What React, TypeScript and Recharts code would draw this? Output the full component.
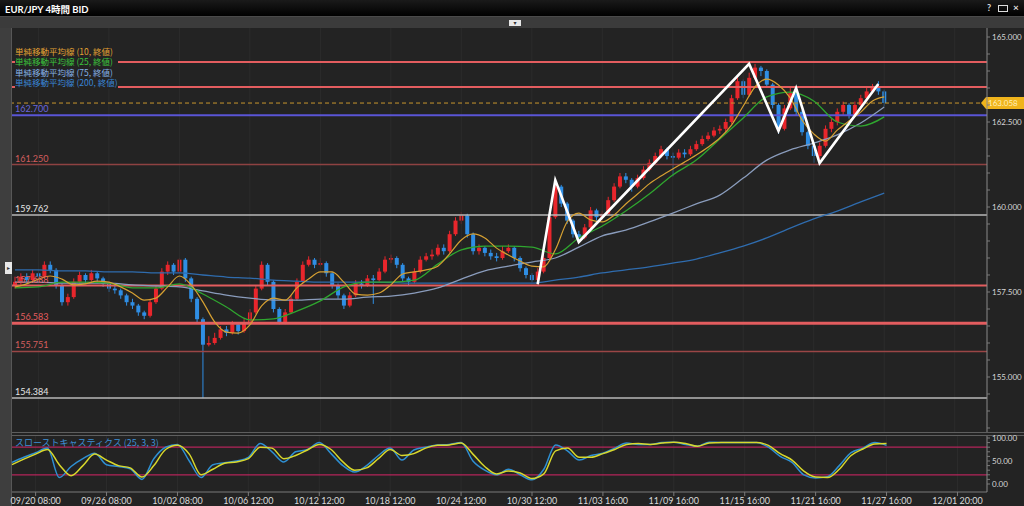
import React from 'react';
import { ComposedChart, Bar, Line, XAxis, YAxis, ReferenceLine } from 'recharts';

// ---------- DATA ----------
const TOTAL_SLOTS = 166; // candle slots incl. empty future slots
const firstOpen = 157.7;

const closes = [
  157.80,157.95,157.85,158.05,157.95,158.30,158.15,157.70,157.20,157.35,
  157.80,158.00,157.85,158.05,157.90,157.75,157.60,157.55,157.40,157.20,
  157.10,156.90,156.80,157.20,157.60,158.10,158.30,158.10,158.45,157.90,
  157.30,156.70,155.95,156.00,156.15,156.40,156.30,156.55,156.35,156.60,
  156.90,157.60,158.30,157.80,157.00,156.60,156.90,157.30,157.80,158.30,
  158.45,158.30,158.35,158.05,157.70,157.40,157.10,157.40,157.75,157.70,
  157.90,157.85,158.10,158.45,158.50,158.30,157.90,157.80,158.10,158.45,
  158.55,158.60,158.80,158.70,159.20,159.60,159.75,159.20,158.70,158.80,
  158.65,158.55,158.50,158.70,158.80,158.50,158.20,158.00,157.85,158.10,
  158.50,159.70,160.60,160.10,159.60,159.20,159.10,159.40,159.90,159.70,
  159.80,160.20,160.60,160.90,160.80,160.60,160.85,161.10,161.30,161.50,
  161.70,161.50,161.45,161.60,161.55,161.70,161.85,162.00,162.10,162.25,
  162.30,162.50,163.20,163.70,163.30,163.80,164.10,164.00,163.60,163.00,
  162.30,162.90,163.35,162.80,162.20,161.80,161.50,161.80,162.30,162.50,
  162.80,163.00,162.70,163.00,163.20,163.40,163.50,163.40,163.06,
];
const highs = [
  157.95,158.05,158.05,158.15,158.15,158.40,158.40,158.20,157.75,157.45,
  157.90,158.10,158.05,158.15,158.10,157.95,157.80,157.70,157.60,157.45,
  157.30,157.15,156.95,157.30,157.70,158.20,158.40,158.35,158.50,158.50,
  157.95,157.35,156.75,156.20,156.30,156.50,156.50,156.65,156.60,156.70,
  157.00,157.70,158.40,158.35,157.85,157.05,157.00,157.40,157.90,158.40,
  158.55,158.50,158.50,158.40,158.10,157.75,157.45,157.50,157.85,157.85,
  158.00,158.00,158.20,158.55,158.60,158.55,158.35,157.95,158.20,158.55,
  158.65,158.75,158.90,158.90,159.30,159.70,159.85,159.80,159.25,158.90,
  158.85,158.75,158.65,158.85,158.90,158.85,158.55,158.25,158.05,158.20,
  158.60,159.80,160.79,160.65,160.15,159.65,159.30,159.50,160.00,159.95,
  159.90,160.30,160.70,161.00,161.00,160.85,160.95,161.20,161.40,161.60,
  161.80,161.75,161.60,161.70,161.70,161.80,161.95,162.10,162.20,162.35,
  162.40,162.60,163.30,163.85,163.75,163.95,164.21,164.15,164.05,163.65,
  163.05,163.00,163.50,163.40,162.85,162.25,161.85,161.90,162.40,162.60,
  162.90,163.10,163.05,163.10,163.30,163.50,163.62,163.70,163.45,
];
const lows = [
  157.60,157.70,157.75,157.80,157.85,157.90,158.05,157.60,157.10,157.10,
  157.30,157.75,157.75,157.80,157.80,157.65,157.50,157.45,157.30,157.10,
  157.00,156.80,156.70,156.75,157.15,157.55,158.00,158.00,158.05,157.80,
  157.20,156.60,154.38,155.90,155.95,156.10,156.20,156.25,156.25,156.30,
  156.55,156.85,157.55,157.70,156.90,156.55,156.55,156.85,157.25,157.75,
  158.25,158.20,158.25,157.95,157.60,157.30,157.00,157.05,157.35,157.60,
  157.65,157.15,157.80,158.05,158.35,158.20,157.80,157.70,157.75,158.05,
  158.40,158.45,158.55,158.60,158.65,159.15,159.50,159.10,158.60,158.60,
  158.55,158.45,158.40,158.45,158.65,158.40,158.10,157.90,157.80,157.73,
  158.05,158.45,159.65,160.00,159.50,159.10,158.97,159.05,159.35,159.60,
  159.60,159.75,160.15,160.55,160.70,160.45,160.55,160.80,161.05,161.25,
  161.45,161.40,160.90,161.40,161.45,161.50,161.65,161.80,161.95,162.05,
  162.15,162.20,162.45,163.15,163.20,163.25,163.75,163.85,163.50,162.90,
  162.15,162.25,162.85,162.70,162.10,161.70,161.30,161.40,161.75,162.20,
  162.40,162.70,162.60,162.65,162.95,163.10,163.35,163.30,162.95,
];

// moving averages, sampled every SMA10_STEP / SMA_STEP slots
const SMA10_STEP = 2;
const SMA_STEP = 4;
const sma10 = [
  157.65,157.74,157.88,157.97,157.88,157.71,157.74,157.82,157.79,157.65,
  157.47,157.26,157.32,157.65,157.97,157.71,157.21,156.62,156.32,156.29,
  156.53,157.09,157.32,157.26,157.62,157.88,158.09,158.09,157.79,157.44,
  157.41,157.47,157.71,158.03,158.09,158.15,158.26,158.62,159.03,159.21,
  159.09,158.79,158.59,158.41,158.26,158.24,158.74,159.56,159.82,159.62,
  159.56,159.76,160.09,160.38,160.68,160.91,161.12,161.32,161.53,161.76,
  162.03,162.41,162.97,163.53,163.76,163.59,163.21,162.56,162.15,161.94,
  162.26,162.53,162.79,163.12,163.24,
];
const sma25 = [
  157.62,157.65,157.79,157.79,157.76,157.62,157.62,157.74,157.44,157.06,
  156.68,156.71,156.94,157.24,157.65,157.79,157.79,157.85,158.32,158.74,
  158.85,158.85,158.82,158.62,159.09,159.44,159.88,160.38,160.94,161.38,
  162.00,162.62,163.24,163.38,163.12,162.50,162.38,162.65,
];
const sma75 = [
  157.79,157.79,157.76,157.76,157.76,157.71,157.68,157.65,157.53,157.41,
  157.32,157.26,157.26,157.29,157.29,157.35,157.38,157.47,157.62,157.88,
  158.12,158.26,158.38,158.50,158.82,159.15,159.32,159.56,159.82,160.09,
  160.35,160.85,161.38,161.68,161.88,162.12,162.47,162.94,
];
const sma200 = [
  158.15,158.15,158.12,158.12,158.09,158.09,158.06,158.06,158.00,157.94,
  157.91,157.85,157.82,157.79,157.79,157.79,157.78,157.76,157.76,157.76,
  157.76,157.76,157.76,157.85,157.94,158.06,158.15,158.24,158.35,158.47,
  158.65,158.85,159.09,159.38,159.65,159.88,160.15,160.41,
];

// slow stochastics (25,3,3), sampled every STOCH_STEP slots
const STOCH_STEP = 2;
const stochK = [
  47,58,68,78,14,38,55,67,42,38, 33,10,55,80,86,50,14,42,46,50,
  58,88,70,48,70,75,90,66,40,26, 40,62,78,52,74,80,85,86,90,50,
  30,20,32,20,9,32,85,72,52,62, 67,78,89,86,86,90,91,86,82,91,
  90,90,90,90,80,60,47,20,13,16, 40,68,78,90,84,
];
const stochD = [
  42,54,65,75,42,18,40,65,52,40, 35,15,40,75,84,65,20,32,45,48,
  55,80,78,55,62,74,86,75,48,30, 35,55,75,62,66,78,84,85,89,65,
  38,22,28,24,12,22,72,78,58,58, 66,75,86,88,86,89,91,88,82,89,
  90,90,90,90,84,66,52,28,15,14, 32,62,76,87,88,
];

// hand-drawn zigzag trend line
const zigSlots = [89, 92, 96, 125, 130, 133, 137, 147];
const zigPrices = [157.73, 160.79, 158.97, 164.21, 162.24, 163.5, 161.29, 163.62];

// horizontal levels
const levelPrices = [164.265, 163.53, 162.7, 161.25, 159.762, 157.688, 156.583, 155.751, 154.384];
const levelLabels = ['164.265', '163.530', '162.700', '161.250', '159.762', '157.688', '156.583', '155.751', '154.384'];
const lastPrice = 163.058;
const lastPriceLabel = '163.058';

// axes
const tickSlots = [4, 16, 28, 40, 52, 64, 76, 88, 100, 112, 124, 136, 148, 160];
const tickLabels = [
  '09/20 08:00', '09/26 08:00', '10/02 08:00', '10/06 12:00', '10/12 12:00', '10/18 12:00', '10/24 12:00',
  '10/30 12:00', '11/03 16:00', '11/09 16:00', '11/15 16:00', '11/21 16:00', '11/27 16:00', '12/01 20:00',
];
const priceTicks = [153.5, 154, 154.5, 155, 155.5, 156, 156.5, 157, 157.5, 158, 158.5, 159, 159.5, 160, 160.5, 161, 161.5, 162, 162.5, 163, 163.5, 164, 164.5, 165];
const priceLabelTicks = [155, 157.5, 160, 162.5, 165];
const stochTicks = [0, 10, 20, 30, 40, 50, 60, 70, 80, 90, 100];
const stochLabelTicks = [0, 50, 100];
const stochLevels = [80, 20];

const legendItems = ['単純移動平均線 (10, 終値)', '単純移動平均線 (25, 終値)', '単純移動平均線 (75, 終値)', '単純移動平均線 (200, 終値)'];
const stochTitle = 'スローストキャスティクス (25, 3, 3)';
const title = 'EUR/JPY 4時間 BID';

// ---------- BUILD ROWS ----------
const rows = Array.from({ length: TOTAL_SLOTS }, (_, k) => {
  const r: any = { k };
  if (k < closes.length) {
    r.o = k === 0 ? firstOpen : closes[k - 1];
    r.c = closes[k];
    r.h = highs[k];
    r.l = lows[k];
    r.range = [lows[k], highs[k]];
  }
  if (k % SMA10_STEP === 0 && k / SMA10_STEP < sma10.length) r.ma10 = sma10[k / SMA10_STEP];
  if (k % SMA_STEP === 0 && k / SMA_STEP < sma25.length) {
    r.ma25 = sma25[k / SMA_STEP];
    r.ma75 = sma75[k / SMA_STEP];
    r.ma200 = sma200[k / SMA_STEP];
  }
  if (k % STOCH_STEP === 0 && k / STOCH_STEP < stochK.length) {
    r.sk = stochK[k / STOCH_STEP];
    r.sd = stochD[k / STOCH_STEP];
  }
  const zi = zigSlots.indexOf(k);
  if (zi >= 0) r.zig = zigPrices[zi];
  return r;
});

const tickLabelMap: Record<number, string> = {};
tickSlots.forEach((s, i) => (tickLabelMap[s] = tickLabels[i]));

// ---------- STYLES ----------
const UP = '#e8262c';
const DOWN = '#2f8ee4';
const levelStyles = [
  { stroke: '#e35d5f', w: 2, text: '#e35d5f' },
  { stroke: '#e35d5f', w: 2, text: '#e35d5f' },
  { stroke: '#5a55d6', w: 2, text: '#6b66dc' },
  { stroke: '#8e4242', w: 1.5, text: '#d45e5e' },
  { stroke: '#b8b8b8', w: 1.5, text: '#e6e6e6' },
  { stroke: '#e35d5f', w: 2, text: '#e35d5f' },
  { stroke: '#e35d5f', w: 3, text: '#e35d5f' },
  { stroke: '#9a4646', w: 1.5, text: '#d45e5e' },
  { stroke: '#b8b8b8', w: 1.5, text: '#e6e6e6' },
];
const legendColors = ['#e2a233', '#3cc43c', '#86b2e6', '#3a86d6'];
const FONT = 'Lato, "Noto Sans CJK JP", "DejaVu Sans", sans-serif';

const Candle = (props: any) => {
  const { x, y, width, height, payload } = props;
  if (!payload || payload.h == null || !isFinite(y) || !isFinite(height)) return null;
  const { o, c, h, l } = payload;
  const span = h - l || 1e-6;
  const py = (v: number) => y + ((h - v) / span) * height;
  const color = c >= o ? UP : DOWN;
  const cx = x + width / 2;
  const top = py(Math.max(o, c));
  const bot = py(Math.min(o, c));
  return (
    <g>
      <line x1={cx} x2={cx} y1={y} y2={y + height} stroke={color} strokeWidth={1} />
      <rect x={cx - 2} y={top} width={4} height={Math.max(1, bot - top)} fill={color} />
    </g>
  );
};

const PriceTag = (props: any) => {
  const vb = props.viewBox;
  if (!vb) return null;
  const x = vb.x + vb.width;
  const y = vb.y;
  return (
    <g>
      <polygon points={`${x - 6},${y} ${x - 1},${y - 6} ${x + 37},${y - 6} ${x + 37},${y + 6} ${x - 1},${y + 6}`} fill="#f0b41c" />
      <text x={x + 1} y={y + 3} fontSize={8} fill="#fff0b8" fontFamily={FONT}>{lastPriceLabel}</text>
    </g>
  );
};

export default function App() {
  return (
    <div style={{ position: 'absolute', left: 0, top: 0, width: 1024, height: 506, background: '#232323', overflow: 'hidden', fontFamily: FONT }}>
      {/* title bar */}
      <div style={{ position: 'absolute', left: 0, top: 0, width: 1024, height: 16, background: 'linear-gradient(#1a1a1a, #000)', borderBottom: '1px solid #4a4a4a' }}>
        <span style={{ position: 'absolute', left: 5, top: 2, color: '#fff', fontSize: 9.5, fontWeight: 700 }}>{title}</span>
        <span style={{ position: 'absolute', left: 987, top: 2, color: '#ddd', fontSize: 9, fontWeight: 700 }}>?</span>
        <span style={{ position: 'absolute', left: 998, top: 5, width: 8, height: 5, border: '1px solid #ddd' }} />
        <span style={{ position: 'absolute', left: 1013, top: 1, color: '#ddd', fontSize: 10, fontWeight: 700 }}>×</span>
      </div>
      {/* gray strip under title */}
      <div style={{ position: 'absolute', left: 0, top: 17, width: 1024, height: 11, background: '#3b3b3b' }}>
        <div style={{ position: 'absolute', left: 509, top: 3, width: 12, height: 6, background: '#e6e6e6', fontSize: 6, lineHeight: '6px', textAlign: 'center', color: '#333' }}>▾</div>
      </div>
      {/* left strip */}
      <div style={{ position: 'absolute', left: 0, top: 28, width: 11, height: 478, background: '#3e3e3e', borderRight: '1px solid #575757' }}>
        <div style={{ position: 'absolute', left: 5, top: 234, width: 7, height: 12, background: '#e8e8e8', fontSize: 6, lineHeight: '12px', textAlign: 'center', color: '#333' }}>▸</div>
      </div>

      {/* main price chart */}
      <div style={{ position: 'absolute', left: 0, top: 28 }}>
        <ComposedChart width={1024} height={404} data={rows} margin={{ top: 0, right: 0, bottom: 0, left: 12 }}>
          <XAxis dataKey="k" type="category" hide />
          <YAxis
            orientation="right"
            width={37}
            type="number"
            domain={[153.382, 165.265]}
            allowDataOverflow
            ticks={priceTicks}
            interval={0}
            tickFormatter={(v: number) => (priceLabelTicks.includes(v) ? v.toFixed(3) : '')}
            tick={{ fill: '#d6d6d6', fontSize: 8, fontFamily: FONT }}
            axisLine={{ stroke: '#8a8a8a' }}
            tickLine={{ stroke: '#7a7a7a' }}
            tickSize={3}
            tickMargin={2}
          />
          {tickSlots.map((s) => (
            <ReferenceLine key={'v' + s} x={s} stroke="#2c2c2c" strokeWidth={1} />
          ))}
          {levelPrices.map((p, i) => (
            <ReferenceLine
              key={'lv' + i}
              y={p}
              stroke={levelStyles[i].stroke}
              strokeWidth={levelStyles[i].w}
              label={{ value: levelLabels[i], position: 'insideBottomLeft', offset: 3, fill: levelStyles[i].text, fontSize: 9, fontFamily: FONT }}
            />
          ))}
          <ReferenceLine y={lastPrice} stroke="#c8962e" strokeDasharray="4 3" strokeWidth={1} label={<PriceTag />} />
          <Bar dataKey="range" shape={Candle} barSize={4} isAnimationActive={false} />
          <Line dataKey="ma200" stroke="#2f6cae" strokeWidth={1.3} dot={false} activeDot={false} connectNulls type="monotone" isAnimationActive={false} />
          <Line dataKey="ma75" stroke="#8a9cbc" strokeWidth={1.3} dot={false} activeDot={false} connectNulls type="monotone" isAnimationActive={false} />
          <Line dataKey="ma25" stroke="#2fa62f" strokeWidth={1.3} dot={false} activeDot={false} connectNulls type="monotone" isAnimationActive={false} />
          <Line dataKey="ma10" stroke="#d6a032" strokeWidth={1.2} dot={false} activeDot={false} connectNulls type="monotone" isAnimationActive={false} />
          <Line dataKey="zig" stroke="#ffffff" strokeWidth={2.6} dot={false} activeDot={false} connectNulls type="linear" isAnimationActive={false} />
        </ComposedChart>
      </div>

      {/* legend */}
      <div style={{ position: 'absolute', left: 15, top: 46, width: 103, height: 43, background: '#232323' }}>
        {legendItems.map((t, i) => (
          <div key={t} style={{ position: 'absolute', left: 0, top: i * 10.4, fontSize: 8.5, lineHeight: '11px', color: legendColors[i], whiteSpace: 'nowrap', fontFamily: '"Noto Sans CJK JP", Lato, sans-serif' }}>{t}</div>
        ))}
      </div>

      {/* panel divider */}
      <div style={{ position: 'absolute', left: 12, top: 432, width: 1012, height: 1, background: '#5e5e5e' }} />
      <div style={{ position: 'absolute', left: 12, top: 435, width: 1012, height: 1, background: '#5e5e5e' }} />

      {/* stochastics chart */}
      <div style={{ position: 'absolute', left: 0, top: 430 }}>
        <ComposedChart width={1024} height={76} data={rows} margin={{ top: 6, right: 0, bottom: 0, left: 12 }}>
          <XAxis
            dataKey="k"
            type="category"
            ticks={tickSlots}
            interval={0}
            height={14}
            tickFormatter={(v: number) => tickLabelMap[v] ?? ''}
            tick={{ fill: '#dadada', fontSize: 9, fontFamily: FONT }}
            axisLine={{ stroke: '#7a7a7a' }}
            tickLine={{ stroke: '#7a7a7a' }}
            tickSize={4}
          />
          <YAxis
            orientation="right"
            width={37}
            type="number"
            domain={[-17.4, 104.35]}
            allowDataOverflow
            ticks={stochTicks}
            interval={0}
            tickFormatter={(v: number) => (stochLabelTicks.includes(v) ? v.toFixed(2) : '')}
            tick={{ fill: '#d6d6d6', fontSize: 8, fontFamily: FONT }}
            axisLine={{ stroke: '#8a8a8a' }}
            tickLine={{ stroke: '#7a7a7a' }}
            tickSize={3}
            tickMargin={2}
          />
          {tickSlots.map((s) => (
            <ReferenceLine key={'sv' + s} x={s} stroke="#2c2c2c" strokeWidth={1} />
          ))}
          {stochLevels.map((v) => (
            <ReferenceLine key={'sl' + v} y={v} stroke="#b4245a" strokeWidth={1.2} />
          ))}
          <Line dataKey="sk" stroke="#2e8fd2" strokeWidth={1.5} dot={false} activeDot={false} connectNulls type="monotone" isAnimationActive={false} />
          <Line dataKey="sd" stroke="#d8d82c" strokeWidth={1.5} dot={false} activeDot={false} connectNulls type="monotone" isAnimationActive={false} />
        </ComposedChart>
      </div>
      <div style={{ position: 'absolute', left: 15, top: 437, fontSize: 9, lineHeight: '11px', color: '#3d8fd6', whiteSpace: 'nowrap', fontFamily: '"Noto Sans CJK JP", Lato, sans-serif' }}>{stochTitle}</div>
    </div>
  );
}
